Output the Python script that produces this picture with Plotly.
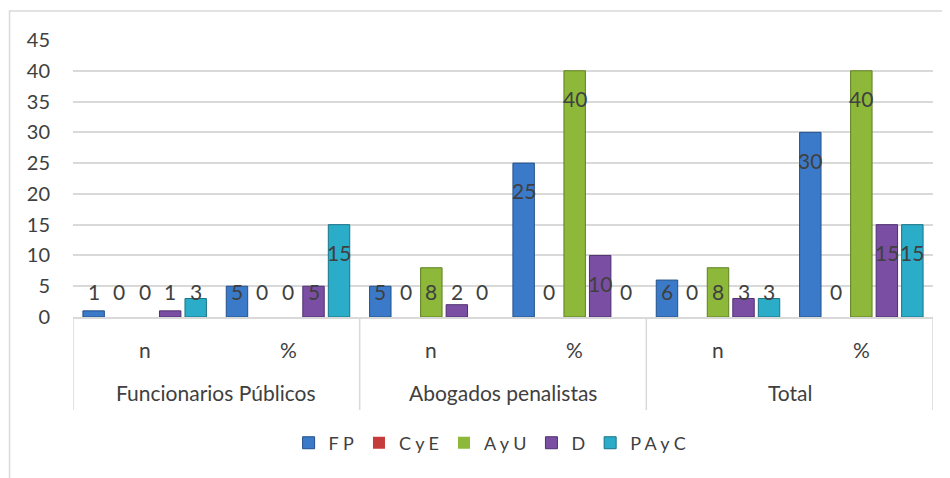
import plotly.graph_objects as go

groups = ["Funcionarios Públicos", "Abogados penalistas", "Total"]
subs = ["n", "%"]
categories = ["FP-n", "FP-%", "AP-n", "AP-%", "T-n", "T-%"]
cat_sub = ["n", "%", "n", "%", "n", "%"]

series_names = ["F P", "C y E", "A y U", "D", "P A y C"]
fp = [1, 5, 5, 25, 6, 30]
cye = [0, 0, 0, 0, 0, 0]
ayu = [0, 0, 8, 40, 8, 40]
d = [1, 5, 2, 10, 3, 15]
payc = [3, 15, 0, 0, 3, 15]
series_values = [fp, cye, ayu, d, payc]

colors = ["#3B7AC8", "#C63B3B", "#8DB83A", "#7A4FA3", "#2BADC9"]
edge = ["#24508A", "#8A2222", "#5E7F22", "#4F3070", "#1A7487"]

FONT = "Lato"
TXT = "#404040"
GRID = "#D9D9D9"
bargap = 0.11
bargroupgap = 0.16

fig = go.Figure()
for name, vals, c, e in zip(series_names, series_values, colors, edge):
    fig.add_trace(go.Bar(
        x=categories, y=vals, name=name,
        marker=dict(color=c, line=dict(color=e, width=[1 if v > 0 else 0 for v in vals])),
        hoverinfo="skip",
    ))

annotations = []
n = len(series_names)
slot = (1 - bargap) / n
for j, vals in enumerate(series_values):
    off = -(1 - bargap) / 2 + (j + 0.5) * slot
    for i, v in enumerate(vals):
        annotations.append(dict(
            x=i + off, y=max(v - 4.5, 4.1), xref="x", yref="y",
            text=str(v), showarrow=False, yanchor="middle", xanchor="center",
            font=dict(family=FONT, size=21, color=TXT),
        ))

for i, s in enumerate(cat_sub):
    annotations.append(dict(
        x=i, y=-0.119, xref="x", yref="paper", text=s, showarrow=False,
        yanchor="middle", font=dict(family=FONT, size=21, color=TXT)))
for g, gname in enumerate(groups):
    annotations.append(dict(
        x=2 * g + 0.5, y=-0.274, xref="x", yref="paper", text=gname, showarrow=False,
        yanchor="middle", font=dict(family=FONT, size=21, color=TXT)))

shapes = []
for k in range(4):
    shapes.append(dict(type="line", xref="x", yref="paper",
                       x0=2 * k - 0.5, x1=2 * k - 0.5, y0=0, y1=-0.336,
                       line=dict(color=GRID, width=1.5)))
shapes.append(dict(type="rect", xref="paper", yref="paper",
                   x0=-0.0738, x1=1.1, y0=-0.7, y1=1.1047,
                   line=dict(color=GRID, width=1.5), layer="below"))

fig.update_layout(
    width=942, height=470,
    margin=dict(l=65, r=17, t=32, b=161),
    paper_bgcolor="white", plot_bgcolor="white",
    barmode="group", bargap=bargap, bargroupgap=bargroupgap,
    font=dict(family=FONT, size=20, color=TXT),
    xaxis=dict(type="category", showticklabels=False, showgrid=False,
               showline=True, linecolor=GRID, linewidth=1.5,
               range=[-0.5, 5.5], zeroline=False),
    yaxis=dict(range=[0, 45], dtick=5, showgrid=True, gridcolor=GRID, gridwidth=1.5,
               zeroline=False, showline=False, ticklabelstandoff=22,
               tickfont=dict(family=FONT, size=20, color=TXT)),
    legend=dict(orientation="h", x=0.485, xanchor="center", y=-0.455, yanchor="middle",
                font=dict(family=FONT, size=18, color=TXT), traceorder="normal"),
    annotations=annotations, shapes=shapes,
    showlegend=True,
)

fig.write_html("out.html")
